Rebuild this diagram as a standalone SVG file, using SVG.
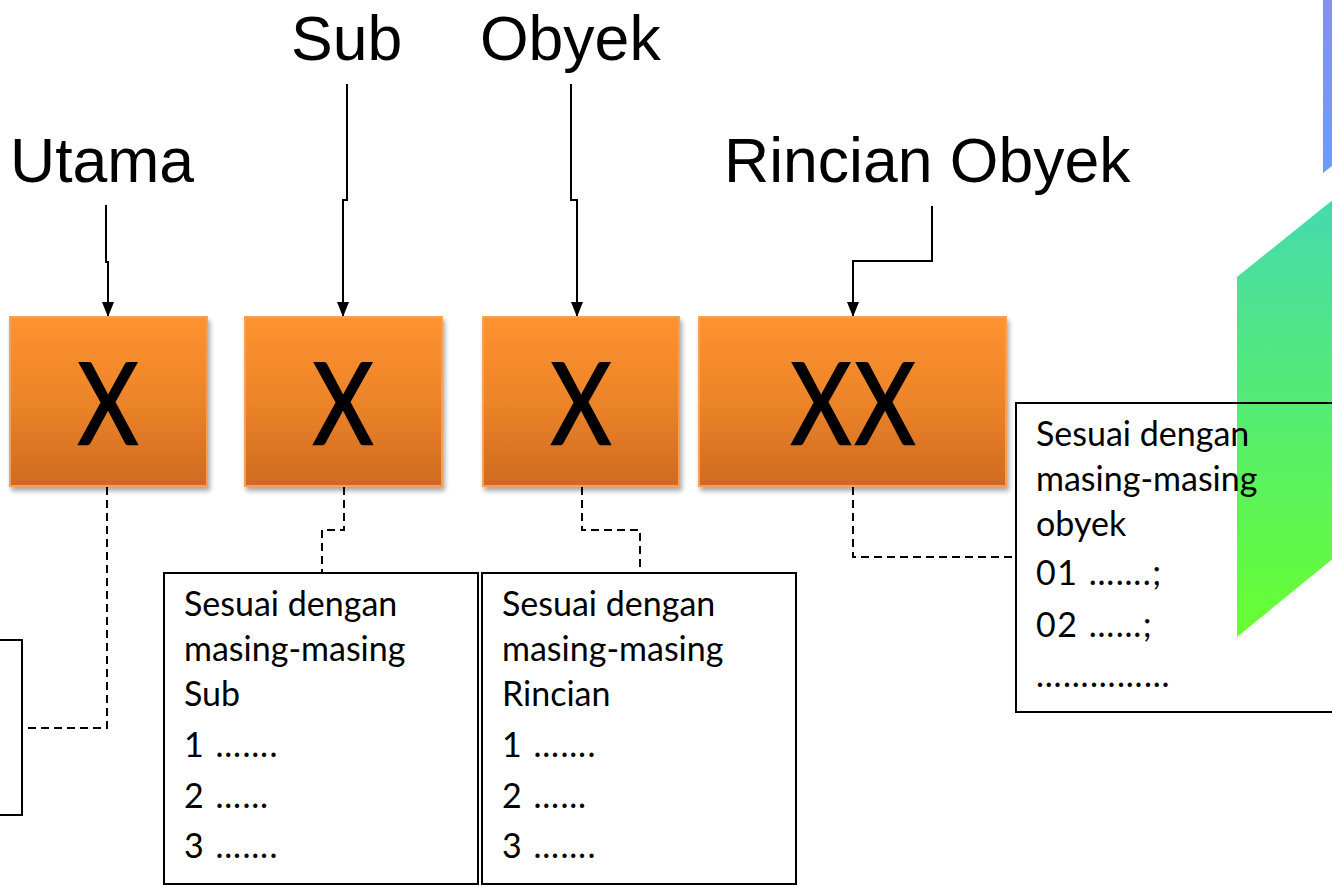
<svg xmlns="http://www.w3.org/2000/svg" width="1332" height="887" viewBox="0 0 1332 887">
  <defs>
    <linearGradient id="orange" x1="0" y1="0" x2="0" y2="1">
      <stop offset="0" stop-color="#fe9230"/>
      <stop offset="0.5" stop-color="#ec8429"/>
      <stop offset="1" stop-color="#cf6a20"/>
    </linearGradient>
    <linearGradient id="blueFill" x1="0" y1="0" x2="0" y2="1">
      <stop offset="0" stop-color="#8790ee"/>
      <stop offset="1" stop-color="#679eff"/>
    </linearGradient>
    <linearGradient id="greenFill" x1="0" y1="200" x2="0" y2="637" gradientUnits="userSpaceOnUse">
      <stop offset="0" stop-color="#45daae"/>
      <stop offset="1" stop-color="#68ff30"/>
    </linearGradient>
    <filter id="shadow" x="-10%" y="-10%" width="125%" height="130%">
      <feGaussianBlur in="SourceAlpha" stdDeviation="2.5"/>
      <feOffset dx="2" dy="4"/>
      <feComponentTransfer><feFuncA type="linear" slope="0.35"/></feComponentTransfer>
      <feMerge><feMergeNode/><feMergeNode in="SourceGraphic"/></feMerge>
    </filter>
    <!-- arrowhead drawn along +x, rotated to the path direction -->
    <marker id="arrow" viewBox="0 0 15 12" refX="15" refY="6" markerWidth="15" markerHeight="12" markerUnits="userSpaceOnUse" orient="auto">
      <path d="M0,0 L15,6 L0,12 Z" fill="#000"/>
    </marker>
  </defs>
  <style>
    .label { font-family: "Liberation Sans", Arial, sans-serif; font-size: 62.5px; fill: #000; }
    .code { font-family: Lato, "Open Sans", sans-serif; font-size: 112px; fill: #000; stroke: #000; stroke-width: 2.5; text-anchor: middle; }
    .seg { fill: url(#orange); stroke: #f6a057; stroke-width: 2; filter: url(#shadow); }
    .note { fill: none; stroke: #000; stroke-width: 2; }
    .txt { font-family: Lato, "Open Sans", sans-serif; font-size: 34px; fill: #000; }
    .dots { letter-spacing: 1.5px; }
    .solid { fill: none; stroke: #000; stroke-width: 2; marker-end: url(#arrow); }
    .dash { fill: none; stroke: #000; stroke-width: 2; stroke-dasharray: 8 5; }
  </style>
  <rect width="1332" height="887" fill="#fff"/>

  <!-- decorative slanted bands on the right edge -->
  <polygon points="1323,0 1340,0 1340,160 1323,173" fill="url(#blueFill)"/>
  <polygon points="1237,277 1340,194 1340,553 1237,637" fill="url(#greenFill)"/>

  <!-- level labels -->
  <g id="labels">
    <text class="label" x="10" y="182">Utama</text>
    <text class="label" x="291" y="60">Sub</text>
    <text class="label" x="480" y="60">Obyek</text>
    <text class="label" x="724" y="182">Rincian Obyek</text>
  </g>

  <!-- connectors -->
  <g id="connectors">
    <path class="solid" d="M106,205 V262 H108 V317"/>
    <path class="solid" d="M347,84 V200 H343 V317"/>
    <path class="solid" d="M571,84 V200 H577 V317"/>
    <path class="solid" d="M932,206 V261 H853 V317"/>
    <path class="dash" d="M107,487 V728 H22"/>
    <path class="dash" d="M344,487 V530 H322 V573"/>
    <path class="dash" d="M582,487 V530 H640 V573"/>
    <path class="dash" d="M853,487 V557 H1016"/>
  </g>

  <!-- code segments (glyphs narrowed horizontally) -->
  <g id="seg-utama">
    <rect class="seg" x="10" y="317" width="197" height="169"/>
    <text class="code" transform="translate(108,444) scale(0.82,1)">X</text>
  </g>
  <g id="seg-sub">
    <rect class="seg" x="245" y="317" width="197" height="169"/>
    <text class="code" transform="translate(343,444) scale(0.82,1)">X</text>
  </g>
  <g id="seg-obyek">
    <rect class="seg" x="483" y="317" width="196" height="169"/>
    <text class="code" transform="translate(581,444) scale(0.82,1)">X</text>
  </g>
  <g id="seg-rincian">
    <rect class="seg" x="699" y="317" width="307" height="169"/>
    <text class="code" transform="translate(853,444) scale(0.82,1)"><tspan x="-39">X</tspan><tspan x="39">X</tspan></text>
  </g>

  <!-- notes -->
  <g id="note-utama">
    <rect class="note" x="-4" y="640" width="26" height="175"/>
  </g>
  <g id="note-sub">
    <rect class="note" x="164" y="573" width="314" height="311"/>
    <text class="txt" x="184">
      <tspan x="184" y="616">Sesuai dengan</tspan>
      <tspan x="184" y="661">masing-masing</tspan>
      <tspan x="184" y="706">Sub</tspan>
      <tspan class="dots" x="184" y="757">1 …….</tspan>
      <tspan class="dots" x="184" y="808">2 ……</tspan>
      <tspan class="dots" x="184" y="858">3 …….</tspan>
    </text>
  </g>
  <g id="note-obyek">
    <rect class="note" x="482" y="573" width="314" height="311"/>
    <text class="txt" x="502">
      <tspan x="502" y="616">Sesuai dengan</tspan>
      <tspan x="502" y="661">masing-masing</tspan>
      <tspan x="502" y="706">Rincian</tspan>
      <tspan class="dots" x="502" y="757">1 …….</tspan>
      <tspan class="dots" x="502" y="808">2 ……</tspan>
      <tspan class="dots" x="502" y="858">3 …….</tspan>
    </text>
  </g>
  <g id="note-rincian">
    <rect class="note" x="1016" y="403" width="330" height="309"/>
    <text class="txt" x="1036">
      <tspan x="1036" y="446">Sesuai dengan</tspan>
      <tspan x="1036" y="491">masing-masing</tspan>
      <tspan x="1036" y="536">obyek</tspan>
      <tspan class="dots" x="1036" y="585">01 …….;</tspan>
      <tspan class="dots" x="1036" y="637">02 ……;</tspan>
      <tspan class="dots" x="1036" y="687">……………</tspan>
    </text>
  </g>
</svg>
